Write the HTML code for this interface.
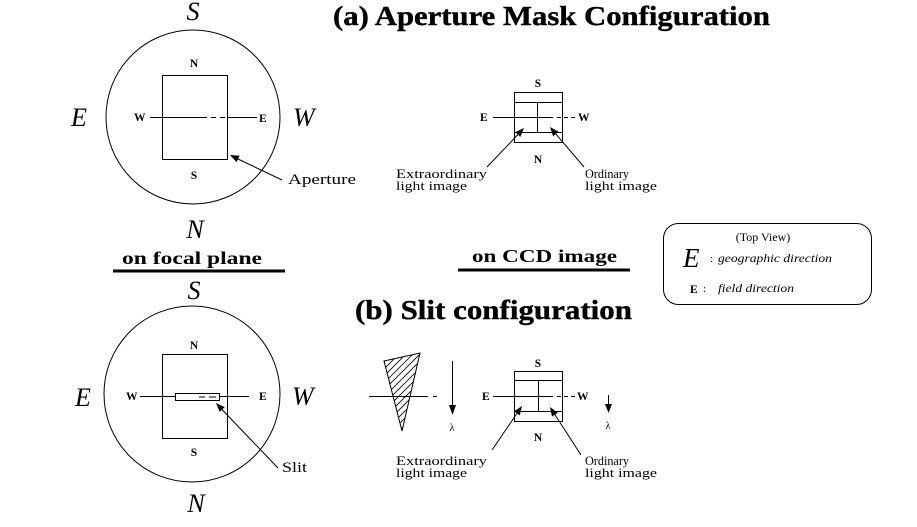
<!DOCTYPE html>
<html><head><meta charset="utf-8"><style>
html,body{margin:0;padding:0;background:#fff;}
svg{display:block;}
text{font-family:"Liberation Serif",serif;fill:#000;}
.t{font-weight:bold;font-size:27px;stroke:#000;stroke-width:0.4;}
.big{font-style:italic;font-size:26px;}
.sm{font-weight:bold;font-size:11.5px;}
.lb{font-size:13px;}
.sub{font-weight:bold;font-size:18px;}
</style></head><body>
<svg width="917" height="527" viewBox="0 0 917 527" xmlns="http://www.w3.org/2000/svg">
<rect width="917" height="527" fill="#fff"/>
<defs>
<clipPath id="wc"><polygon points="384,361 420,353 402,431"/></clipPath>
</defs>

<!-- Titles -->
<text class="t" x="333" y="25" textLength="437" lengthAdjust="spacingAndGlyphs">(a) Aperture Mask Configuration</text>
<text class="t" x="355" y="319" textLength="277" lengthAdjust="spacingAndGlyphs">(b) Slit configuration</text>

<!-- Section labels -->
<text class="sub" x="122" y="264" textLength="140" lengthAdjust="spacingAndGlyphs">on focal plane</text>
<line x1="113" y1="271" x2="285" y2="271" stroke="#000" stroke-width="3"/>
<text class="sub" x="472" y="262" textLength="145" lengthAdjust="spacingAndGlyphs">on CCD image</text>
<line x1="458" y1="270" x2="630" y2="270" stroke="#000" stroke-width="3"/>

<g stroke="#000" fill="none" stroke-width="1">
<!-- (a) focal plane -->
<circle cx="193" cy="117" r="87"/>
<rect x="162.5" y="75.5" width="65" height="84"/>
<line x1="150" y1="117.5" x2="207" y2="117.5"/>
<line x1="211" y1="117.5" x2="216" y2="117.5"/>
<line x1="220" y1="117.5" x2="225" y2="117.5"/>
<line x1="228" y1="117.5" x2="257" y2="117.5"/>
<line x1="282" y1="180" x2="238" y2="159"/>

<!-- (a) CCD -->
<rect x="514.5" y="92.5" width="48" height="50"/>
<line x1="514" y1="102.5" x2="562" y2="102.5"/>
<line x1="514" y1="132.5" x2="562" y2="132.5"/>
<line x1="537.5" y1="102" x2="537.5" y2="132"/>
<line x1="493" y1="117.5" x2="553" y2="117.5"/>
<line x1="557" y1="117.5" x2="577" y2="117.5" stroke-dasharray="4,3"/>
<line x1="487" y1="167" x2="518" y2="134.5"/>
<line x1="584" y1="167" x2="555.8" y2="133.9"/>

<!-- Legend -->
<rect x="663.5" y="223.5" width="208" height="81" rx="15" ry="15"/>

<!-- (b) focal plane -->
<circle cx="192" cy="394" r="88"/>
<rect x="162.5" y="354.5" width="65" height="84"/>
<line x1="140" y1="396.5" x2="175" y2="396.5"/>
<line x1="219" y1="396.5" x2="249" y2="396.5"/>
<rect x="175.5" y="393.5" width="44" height="7"/>
<line x1="199" y1="397" x2="205" y2="397"/>
<line x1="209" y1="397" x2="216" y2="397"/>
<line x1="278" y1="468" x2="222" y2="409.5"/>

<!-- wedge -->
<polygon points="384,361 420,353 402,431"/>
<line x1="369" y1="396.5" x2="428" y2="396.5"/>
<line x1="433" y1="396.5" x2="437" y2="396.5"/>
<line x1="452.5" y1="361" x2="452.5" y2="406"/>
<line x1="608.5" y1="395" x2="608.5" y2="405"/>

<!-- (b) CCD -->
<rect x="514.5" y="371.5" width="48" height="50"/>
<line x1="514" y1="380.5" x2="562" y2="380.5"/>
<line x1="514" y1="411.5" x2="562" y2="411.5"/>
<line x1="538.5" y1="380" x2="538.5" y2="411"/>
<line x1="493" y1="396.5" x2="553" y2="396.5"/>
<line x1="557" y1="396.5" x2="577" y2="396.5" stroke-dasharray="4,3"/>
<line x1="492" y1="450" x2="517" y2="413.4"/>
<line x1="581" y1="455" x2="554.9" y2="414.6"/>
</g>

<!-- hatching -->
<g clip-path="url(#wc)" stroke="#000" stroke-width="0.8">
<line x1="299" y1="440" x2="389" y2="350"/>
<line x1="306" y1="440" x2="396" y2="350"/>
<line x1="313" y1="440" x2="403" y2="350"/>
<line x1="320" y1="440" x2="410" y2="350"/>
<line x1="327" y1="440" x2="417" y2="350"/>
<line x1="334" y1="440" x2="424" y2="350"/>
<line x1="341" y1="440" x2="431" y2="350"/>
<line x1="348" y1="440" x2="438" y2="350"/>
<line x1="355" y1="440" x2="445" y2="350"/>
<line x1="362" y1="440" x2="452" y2="350"/>
<line x1="369" y1="440" x2="459" y2="350"/>
<line x1="376" y1="440" x2="466" y2="350"/>
<line x1="383" y1="440" x2="473" y2="350"/>
<line x1="390" y1="440" x2="480" y2="350"/>
<line x1="397" y1="440" x2="487" y2="350"/>
</g>

<!-- arrowheads -->
<g fill="#000">
<polygon points="230,155 239.6,155.7 236.6,162.1"/>
<polygon points="216,403 224.7,407.1 219.7,411.9"/>
<polygon points="524,128 520.3,136.9 515.3,132.1"/>
<polygon points="550,127 558.5,131.6 553.1,136.2"/>
<polygon points="522,406 519.8,415.4 514,411.4"/>
<polygon points="550,407 557.8,412.7 552,416.5"/>
<polygon points="452.5,415 449,405 456,405"/>
<polygon points="608.5,413 605,404 612,404"/>
</g>

<!-- (a) focal plane labels -->
<text class="big" x="193" y="20" text-anchor="middle">S</text>
<text class="big" x="195" y="238" text-anchor="middle">N</text>
<text class="big" x="71" y="126">E</text>
<text class="big" x="293" y="126">W</text>
<text class="sm" x="194" y="67" text-anchor="middle">N</text>
<text class="sm" x="194" y="179" text-anchor="middle">S</text>
<text class="sm" x="134" y="121">W</text>
<text class="sm" x="259" y="122">E</text>
<text x="288" y="184" style="font-size:15px" textLength="68" lengthAdjust="spacingAndGlyphs">Aperture</text>

<!-- (a) CCD labels -->
<text class="sm" x="538" y="87" text-anchor="middle">S</text>
<text class="sm" x="538" y="163" text-anchor="middle">N</text>
<text class="sm" x="480" y="121">E</text>
<text class="sm" x="578" y="121">W</text>
<text class="lb" x="396" y="178" textLength="91" lengthAdjust="spacingAndGlyphs">Extraordinary</text>
<text class="lb" x="396" y="190" textLength="71" lengthAdjust="spacingAndGlyphs">light image</text>
<text class="lb" x="585" y="178" textLength="44" lengthAdjust="spacingAndGlyphs">Ordinary</text>
<text class="lb" x="585" y="190" textLength="72" lengthAdjust="spacingAndGlyphs">light image</text>

<!-- Legend text -->
<text x="763" y="241" text-anchor="middle" style="font-size:12px">(Top View)</text>
<text x="683" y="267" style="font-style:italic;font-size:27px">E</text>
<text x="710" y="262" style="font-size:11px">:</text>
<text x="718" y="262" style="font-style:italic;font-size:12px" textLength="114" lengthAdjust="spacingAndGlyphs">geographic direction</text>
<text x="690" y="293" style="font-size:11.5px;font-weight:bold">E</text>
<text x="703" y="292" style="font-size:11px">:</text>
<text x="718" y="292" style="font-style:italic;font-size:12px" textLength="76" lengthAdjust="spacingAndGlyphs">field direction</text>

<!-- (b) focal plane labels -->
<text class="big" x="194" y="299" text-anchor="middle">S</text>
<text class="big" x="196" y="512" text-anchor="middle">N</text>
<text class="big" x="75" y="406">E</text>
<text class="big" x="292" y="405">W</text>
<text class="sm" x="194" y="349" text-anchor="middle">N</text>
<text class="sm" x="194" y="456" text-anchor="middle">S</text>
<text class="sm" x="126" y="400">W</text>
<text class="sm" x="259" y="400">E</text>
<text x="282" y="472" style="font-size:15px" textLength="25" lengthAdjust="spacingAndGlyphs">Slit</text>

<!-- (b) CCD labels -->
<text class="sm" x="538" y="367" text-anchor="middle">S</text>
<text class="sm" x="538" y="441" text-anchor="middle">N</text>
<text class="sm" x="482" y="400">E</text>
<text class="sm" x="577" y="400">W</text>
<text x="452" y="431" text-anchor="middle" style="font-size:10px">λ</text>
<text x="608" y="429" text-anchor="middle" style="font-size:10px">λ</text>
<text class="lb" x="396" y="465" textLength="91" lengthAdjust="spacingAndGlyphs">Extraordinary</text>
<text class="lb" x="396" y="477" textLength="71" lengthAdjust="spacingAndGlyphs">light image</text>
<text class="lb" x="585" y="465" textLength="44" lengthAdjust="spacingAndGlyphs">Ordinary</text>
<text class="lb" x="585" y="477" textLength="72" lengthAdjust="spacingAndGlyphs">light image</text>
</svg>
</body></html>
